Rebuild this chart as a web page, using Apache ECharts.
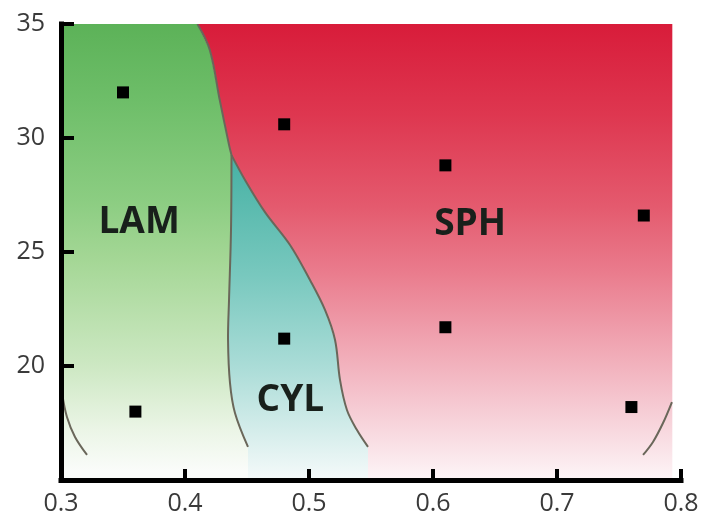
<!DOCTYPE html>
<html>
<head>
<meta charset="utf-8">
<script src="https://cdn.jsdelivr.net/npm/echarts@6/dist/echarts.min.js"></script>
<style>
html, body { margin: 0; padding: 0; background: #fff; }
#main { width: 705px; height: 522px; }
</style>
</head>
<body>
<div id="main"></div>
<script>
// measured compositions (x) vs temperature-like value (y)
var points = [
  [0.35, 32.0], [0.36, 18.0],
  [0.48, 30.6], [0.48, 21.2],
  [0.61, 28.8], [0.61, 21.7],
  [0.77, 26.6], [0.76, 18.2]
];

// phase labels
var phaseNames = ['LAM', 'CYL', 'SPH'];
var phaseLabelPos = [[0.363, 26.3], [0.485, 18.5], [0.63, 26.2]];

// phase boundaries
var lamSph = [[0.410, 35.0], [0.420, 33.86], [0.428, 31.67], [0.4355, 29.7], [0.4375, 29.25]];
var lamCyl = [[0.4375, 29.25], [0.4371, 25.96], [0.4355, 22.89], [0.4347, 21.14], [0.4363, 19.25], [0.4403, 17.94], [0.4508, 16.45]];
var cylSph = [[0.4375, 29.25], [0.4484, 28.16], [0.4645, 26.75], [0.4847, 25.31], [0.5008, 23.77], [0.5129, 22.46],
  [0.521, 21.14], [0.525, 19.39], [0.5306, 18.07], [0.5387, 17.19], [0.5476, 16.45]];
var leftArc = [[0.3008, 18.82], [0.3048, 17.76], [0.3113, 16.89], [0.321, 16.10]];
var rightArc = [[0.7927, 18.42], [0.7855, 17.5], [0.7774, 16.67], [0.7694, 16.10]];

var xTicks = [0.3, 0.4, 0.5, 0.6, 0.7, 0.8];
var yTicks = [20, 25, 30, 35];

var xMin = 0.3, xMax = 0.8, yMin = 15, yMax = 35, fillRight = 0.793;

function rev(a) { return a.slice().reverse(); }

// region polygons built from the boundaries
var lamPoly = [[xMin, yMax]].concat(lamSph, lamCyl.slice(1), [[lamCyl[lamCyl.length - 1][0], yMin], [xMin, yMin]]);
var cylPoly = lamCyl.concat([[lamCyl[lamCyl.length - 1][0], yMin], [cylSph[cylSph.length - 1][0], yMin]], rev(cylSph));
var sphPoly = [[lamSph[0][0], yMax], [fillRight, yMax], [fillRight, yMin], [cylSph[cylSph.length - 1][0], yMin]]
  .concat(rev(cylSph).slice(0, -1), rev(lamSph));
var polys = [lamPoly, cylPoly, sphPoly];
var lines = [lamSph, lamCyl, cylSph, leftArc, rightArc];

var gradients = [
  [[0, '#5cb258'], [0.17, '#6ebe69'], [0.39, '#8ccd82'], [0.52, '#a5d796'], [0.75, '#cde8c3'], [0.89, '#ebf5e6'], [0.98, '#fafcfa']],
  [[0, '#28a096'], [0.3, '#48b2a5'], [0.55, '#78c8be'], [0.75, '#aadcd7'], [0.9, '#d7eeec'], [1, '#f5fafa']],
  [[0, '#d81c3a'], [0.2, '#de3750'], [0.4, '#e45a6e'], [0.55, '#ea7d8e'], [0.7, '#f0a5b2'], [0.85, '#f6cdd5'], [1, '#fdf5f7']]
];

var chart = echarts.init(document.getElementById('main'));

chart.setOption({
  backgroundColor: '#fff',
  animation: false,
  grid: { left: 61, right: 24, top: 24, bottom: 42 },
  xAxis: {
    type: 'value', min: xMin, max: xMax, interval: 0.1, z: 10,
    axisLine: { lineStyle: { color: '#000', width: 5, cap: 'square' } },
    axisTick: { inside: true, length: 11, lineStyle: { color: '#000', width: 4 } },
    axisLabel: {
      margin: 11, fontSize: 25, color: '#3a3a3a', fontFamily: 'Open Sans',
      formatter: function (v) { return xTicks.indexOf(+v.toFixed(1)) >= 0 ? v.toFixed(1) : ''; }
    },
    splitLine: { show: false }
  },
  yAxis: {
    type: 'value', min: yMin, max: yMax, interval: 5, z: 10,
    axisLine: { lineStyle: { color: '#000', width: 5, cap: 'square' } },
    axisTick: { inside: true, length: 13, lineStyle: { color: '#000', width: 4 } },
    axisLabel: {
      margin: 16, fontSize: 25, color: '#3a3a3a', fontFamily: 'Open Sans', showMinLabel: false,
      formatter: function (v) { return yTicks.indexOf(v) >= 0 ? String(v) : ''; }
    },
    splitLine: { show: false }
  },
  series: [
    {
      type: 'custom',
      clip: true,
      z: 1,
      data: polys.map(function (p, i) { return [0.5, 25, i]; }),
      renderItem: function (params, api) {
        var i = api.value(2);
        var pts = polys[i].map(function (p) { return api.coord(p); });
        var top = api.coord([xMin, yMax])[1];
        var bottom = api.coord([xMin, yMin])[1];
        var stops = gradients[i].map(function (s) { return { offset: s[0], color: s[1] }; });
        return {
          type: 'polygon',
          shape: { points: pts },
          style: { fill: new echarts.graphic.LinearGradient(0, top, 0, bottom, stops, true), stroke: null }
        };
      }
    },
    {
      type: 'custom',
      clip: true,
      z: 2,
      data: lines.map(function (l, i) { return [0.5, 25, i]; }),
      renderItem: function (params, api) {
        var i = api.value(2);
        var pts = lines[i].map(function (p) { return api.coord(p); });
        return {
          type: 'polyline',
          shape: { points: pts, smooth: 0.35 },
          style: { stroke: '#6a675a', lineWidth: 2, fill: null }
        };
      }
    },
    {
      type: 'scatter',
      z: 5,
      symbol: 'rect',
      symbolSize: 12,
      itemStyle: { color: '#000', opacity: 1 },
      data: points
    },
    {
      type: 'scatter',
      z: 6,
      symbolSize: 0,
      silent: true,
      itemStyle: { opacity: 1 },
      label: {
        show: true, position: 'inside', formatter: '{b}',
        fontSize: 37, fontWeight: 'bold', fontFamily: 'Open Sans', color: '#18201b'
      },
      data: phaseNames.map(function (n, i) { return { name: n, value: phaseLabelPos[i] }; })
    }
  ]
});
</script>
</body>
</html>
